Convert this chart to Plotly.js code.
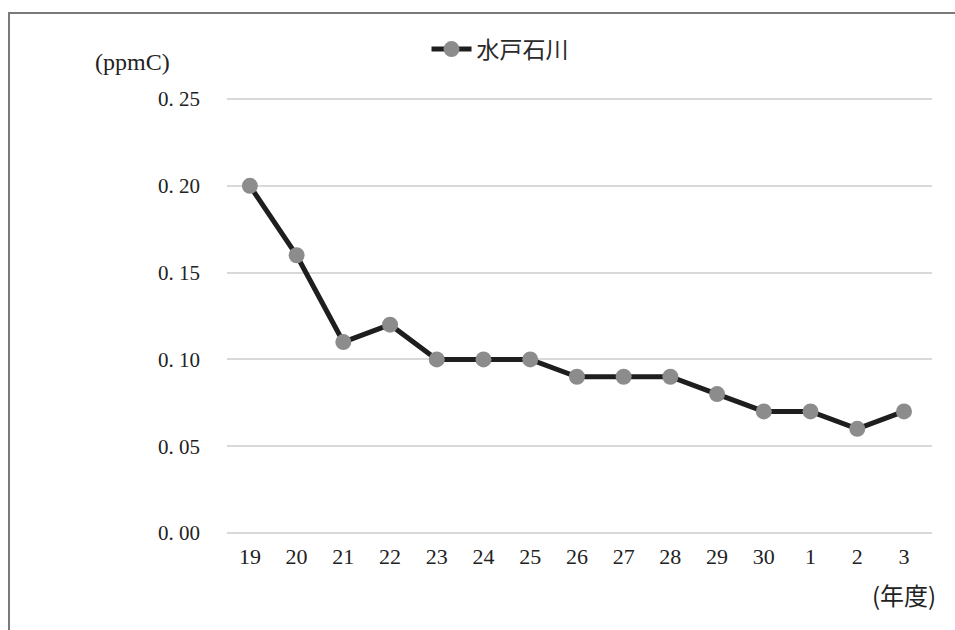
<!DOCTYPE html>
<html>
<head>
<meta charset="utf-8">
<script src="https://cdn.plot.ly/plotly-3.0.1.min.js"></script>
<style>
  html, body { margin: 0; padding: 0; background: #fff; overflow: hidden; }
  #wrap { position: relative; width: 955px; height: 630px; }
  #chart { position: absolute; left: 0; top: 0; width: 955px; height: 630px; }
  #frame { position: absolute; left: 8px; top: 12px; width: 1000px; height: 1000px;
           border: 2px solid #7a7a7a; pointer-events: none; box-sizing: border-box; }
</style>
</head>
<body>
<div id="wrap">
  <div id="chart"></div>
  <div id="frame"></div>
</div>
<script>
// Fiscal years (Heisei 19–30, then Reiwa 1–3)
const years = ['19', '20', '21', '22', '23', '24', '25', '26', '27', '28', '29', '30', '1', '2', '3'];
// Annual mean concentration at 水戸石川 (ppmC)
const mitoIshikawa = [0.20, 0.16, 0.11, 0.12, 0.10, 0.10, 0.10, 0.09, 0.09, 0.09, 0.08, 0.07, 0.07, 0.06, 0.07];
// Y-axis tick values and labels
const yTickVals = [0, 0.05, 0.10, 0.15, 0.20, 0.25];
const yTickText = ['0. 00', '0. 05', '0. 10', '0. 15', '0. 20', '0. 25'];

const serif = '"Liberation Serif", "DejaVu Serif", serif';
const sansJP = '"Noto Sans CJK JP", "Noto Sans", sans-serif';

const trace = {
  x: years,
  y: mitoIshikawa,
  type: 'scatter',
  mode: 'lines+markers',
  name: '水戸石川',
  line: { color: '#1e1e1e', width: 5 },
  marker: { color: '#8c8c8c', size: 16, line: { width: 0 } },
  hoverinfo: 'x+y'
};

const layout = {
  width: 955,
  height: 630,
  paper_bgcolor: '#ffffff',
  plot_bgcolor: '#ffffff',
  margin: { l: 227, r: 23, t: 98, b: 96 },
  showlegend: true,
  legend: {
    orientation: 'h',
    x: 0.283, xanchor: 'left',
    y: 1.112, yanchor: 'middle',
    itemwidth: 40,
    font: { family: sansJP, size: 23, color: '#2a2a2a' },
    bgcolor: 'rgba(0,0,0,0)'
  },
  xaxis: {
    type: 'category',
    range: [-0.49, 14.6],
    showgrid: false,
    zeroline: false,
    showline: false,
    ticks: '',
    ticklabelstandoff: 7,
    tickfont: { family: serif, size: 22, color: '#222222' }
  },
  yaxis: {
    range: [-0.0006, 0.2506],
    tickvals: yTickVals,
    ticktext: yTickText,
    showgrid: true,
    gridcolor: '#d9d9d9',
    gridwidth: 2,
    zeroline: false,
    showline: false,
    ticks: '',
    ticklabelstandoff: 26,
    tickfont: { family: serif, size: 21, color: '#222222' }
  },
  annotations: [
    {
      text: '(ppmC)', xref: 'paper', yref: 'paper',
      x: (132 - 227) / 705, y: (534 - 62) / 436,
      xanchor: 'center', yanchor: 'middle', showarrow: false,
      font: { family: serif, size: 24, color: '#222222' }
    },
    {
      text: '(年度)', xref: 'paper', yref: 'paper',
      x: (904 - 227) / 705, y: (534 - 594) / 436,
      xanchor: 'center', yanchor: 'middle', showarrow: false,
      font: { family: sansJP, size: 24, color: '#222222' }
    }
  ]
};

Plotly.newPlot('chart', [trace], layout, { displayModeBar: false, staticPlot: true });
</script>
</body>
</html>
